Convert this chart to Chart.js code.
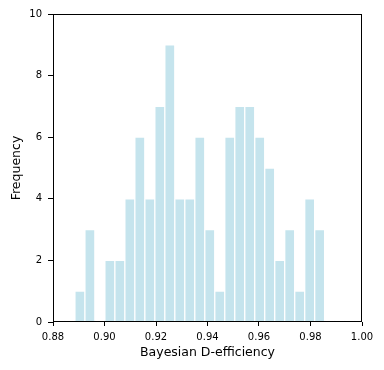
<!DOCTYPE html>
<html>
<head>
<meta charset="utf-8">
<script src="https://cdn.jsdelivr.net/npm/chart.js@4.4.0/dist/chart.umd.min.js"></script>
<style>
  html, body { margin: 0; padding: 0; background: #fff; }
  #chart { display: block; }
</style>
</head>
<body>
<canvas id="chart" width="384" height="370"></canvas>
<script>
// histogram bins (left edges) and counts
var binStart = 0.8885;
var binWidth = 0.00388;
var counts = [1, 3, 0, 2, 2, 4, 6, 4, 7, 9, 4, 4, 6, 3, 1, 6, 7, 7, 6, 5, 2, 3, 1, 4, 3];
var xTicks = [0.88, 0.90, 0.92, 0.94, 0.96, 0.98, 1.00];
var yTicks = [0, 2, 4, 6, 8, 10];

var points = counts.map(function (c, i) {
  return { x: binStart + binWidth * (i + 0.5), y: c };
});

// frame around the plot area
var frame = {
  id: "frame",
  afterDraw: function (chart) {
    var a = chart.chartArea;
    var ctx = chart.ctx;
    ctx.save();
    ctx.strokeStyle = "#000";
    ctx.lineWidth = 1;
    ctx.strokeRect(Math.round(a.left) + 0.5, Math.round(a.top) + 0.5,
      Math.round(a.right - a.left) - 1, Math.round(a.bottom - a.top) - 1);
    ctx.restore();
  }
};

var font = { family: "DejaVu Sans", size: 10 };

new Chart(document.getElementById("chart").getContext("2d"), {
  type: "bar",
  data: {
    datasets: [{
      data: points,
      backgroundColor: "rgba(173, 216, 230, 0.7)",
      borderColor: "#ffffff",
      borderWidth: 1,
      barPercentage: 1,
      categoryPercentage: 1
    }]
  },
  options: {
    responsive: false,
    animation: false,
    layout: { padding: { left: 0, top: 14, right: 22, bottom: 0 } },
    plugins: { legend: { display: false }, tooltip: { enabled: false } },
    scales: {
      x: {
        type: "linear",
        offset: false,
        min: 0.88,
        max: 1.0,
        afterFit: function (s) { s.height = 48; },
        afterBuildTicks: function (s) {
          s.ticks = xTicks.map(function (v) { return { value: v }; });
        },
        grid: { offset: false, drawOnChartArea: false, tickLength: 4, color: "#000" },
        border: { display: false },
        ticks: {
          color: "#000", font: font, padding: 5, maxRotation: 0, autoSkip: false,
          callback: function (v) { return v.toFixed(2); }
        },
        title: {
          display: true, text: "Bayesian D-efficiency", color: "#000",
          font: { family: "DejaVu Sans", size: 12.5 }, padding: { top: 0, bottom: 10 }
        }
      },
      y: {
        min: 0,
        max: 10,
        afterFit: function (s) { s.width = 53; },
        afterBuildTicks: function (s) {
          s.ticks = yTicks.map(function (v) { return { value: v }; });
        },
        grid: { offset: false, drawOnChartArea: false, tickLength: 5, color: "#000" },
        border: { display: false },
        ticks: { color: "#000", font: font, padding: 6 },
        title: {
          display: true, text: "Frequency", color: "#000",
          font: { family: "DejaVu Sans", size: 12.5 }, padding: { top: 9, bottom: 0 }
        }
      }
    }
  },
  plugins: [frame]
});
</script>
</body>
</html>
